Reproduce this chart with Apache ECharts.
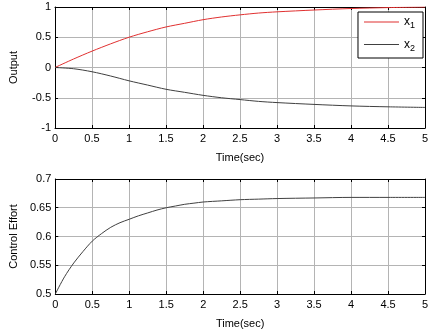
<!DOCTYPE html>
<html>
<head>
<meta charset="utf-8">
<script src="https://cdn.jsdelivr.net/npm/echarts@6/dist/echarts.min.js"></script>
<style>
  html, body { margin: 0; padding: 0; background: #fff; }
  #chart { width: 432px; height: 330px; }
</style>
</head>
<body>
<div id="chart"></div>
<script>
// time samples (sec)
const timeTop = [0, 0.25, 0.5, 0.75, 1, 1.25, 1.5, 1.75, 2, 2.25, 2.5, 2.75, 3, 3.5, 4, 4.5, 5]
const x1Values = [0, 0.14, 0.27, 0.39, 0.5, 0.59, 0.67, 0.73, 0.79, 0.835, 0.87, 0.9, 0.92, 0.95, 0.975, 0.99, 1.0]
const x2Values = [0, -0.02, -0.07, -0.14, -0.22, -0.29, -0.36, -0.41, -0.46, -0.5, -0.53, -0.56, -0.58, -0.61, -0.635, -0.65, -0.66]

const timeBottom = [0, 0.125, 0.25, 0.375, 0.5, 0.625, 0.75, 0.875, 1, 1.125, 1.25, 1.375, 1.5, 1.625, 1.75, 1.875, 2, 2.25, 2.5, 2.75, 3, 3.5, 4, 4.5, 5]
const controlValues = [0.5, 0.53, 0.554, 0.574, 0.592, 0.605, 0.616, 0.624, 0.63, 0.636, 0.641, 0.646, 0.65, 0.653, 0.656, 0.658, 0.66, 0.662, 0.664, 0.665, 0.666, 0.667, 0.668, 0.668, 0.668]

const xTicks = { min: 0, max: 5, interval: 0.5 }
const yTopTicks = { min: -1, max: 1, interval: 0.5 }
const yBottomTicks = { min: 0.5, max: 0.7, interval: 0.05 }

const FONT = 'Liberation Sans, Arial, sans-serif'
const zip = (xs, ys) => xs.map((x, i) => [x, ys[i]])

const axisBase = (ticks, gridIndex) => ({
  type: 'value',
  gridIndex,
  min: ticks.min,
  max: ticks.max,
  interval: ticks.interval,
  axisLine: { show: true, onZero: false, lineStyle: { color: '#000', width: 1 } },
  axisTick: { show: true, inside: true, length: 3, lineStyle: { color: '#000' } }
})

// labelled bottom / left axes
const xMain = (gridIndex) => ({
  ...axisBase(xTicks, gridIndex),
  position: 'bottom',
  name: 'Time(sec)',
  nameLocation: 'middle',
  nameGap: 24,
  nameTextStyle: { color: '#000', fontSize: 11, fontFamily: FONT },
  axisLabel: { margin: 5, color: '#000', fontSize: 11, fontFamily: FONT },
  splitLine: { show: true, lineStyle: { color: '#b4b4b4', width: 1 } }
})
const yMain = (ticks, gridIndex, name) => ({
  ...axisBase(ticks, gridIndex),
  position: 'left',
  name,
  nameLocation: 'middle',
  nameGap: 36,
  nameTextStyle: { color: '#000', fontSize: 11, fontFamily: FONT },
  axisLabel: { margin: 4, color: '#000', fontSize: 11, fontFamily: FONT },
  splitLine: { show: true, lineStyle: { color: '#b4b4b4', width: 1 } }
})
// box sides: top / right with inward ticks only
const xBox = (gridIndex) => ({
  ...axisBase(xTicks, gridIndex),
  position: 'top',
  axisLabel: { show: false },
  splitLine: { show: false }
})
const yBox = (ticks, gridIndex) => ({
  ...axisBase(ticks, gridIndex),
  position: 'right',
  axisLabel: { show: false },
  splitLine: { show: false }
})

const lineSeries = (name, axisIndex, color, data) => ({
  name,
  type: 'line',
  xAxisIndex: axisIndex,
  yAxisIndex: axisIndex,
  symbol: 'none',
  smooth: 0.3,
  lineStyle: { color, width: 1 },
  itemStyle: { color },
  data
})

const option = {
  animation: false,
  backgroundColor: '#fff',
  grid: [
    { left: 44, right: 7, top: 7, height: 121 },
    { left: 44, right: 7, top: 179, height: 121 }
  ],
  xAxis: [xMain(0), xBox(0), xMain(1), xBox(1)],
  yAxis: [
    yMain(yTopTicks, 0, 'Output'), yBox(yTopTicks, 0),
    yMain(yBottomTicks, 1, 'Control Effort'), yBox(yBottomTicks, 1)
  ],
  legend: {
    orient: 'vertical',
    right: 9,
    top: 12,
    data: [{ name: 'x1', icon: 'rect' }, { name: 'x2', icon: 'rect' }],
    backgroundColor: '#fff',
    borderColor: '#000',
    borderWidth: 1,
    borderRadius: 0,
    padding: [4, 8, 5, 6],
    itemGap: 8,
    itemWidth: 35,
    itemHeight: 1,
    formatter: name => 'x{sub|' + name.slice(1) + '}',
    textStyle: {
      color: '#000',
      fontSize: 12,
      fontFamily: FONT,
      rich: { sub: { fontSize: 9, fontFamily: FONT, padding: [8, 0, 0, 0] } }
    }
  },
  series: [
    lineSeries('x1', 0, '#e03030', zip(timeTop, x1Values)),
    lineSeries('x2', 0, '#404040', zip(timeTop, x2Values)),
    // bottom grid: labelled axes have index 2
    lineSeries('u', 2, '#404040', zip(timeBottom, controlValues))
  ]
}

const myChart = echarts.init(document.getElementById('chart'), null, { renderer: 'canvas' })
myChart.setOption(option)
</script>
</body>
</html>
